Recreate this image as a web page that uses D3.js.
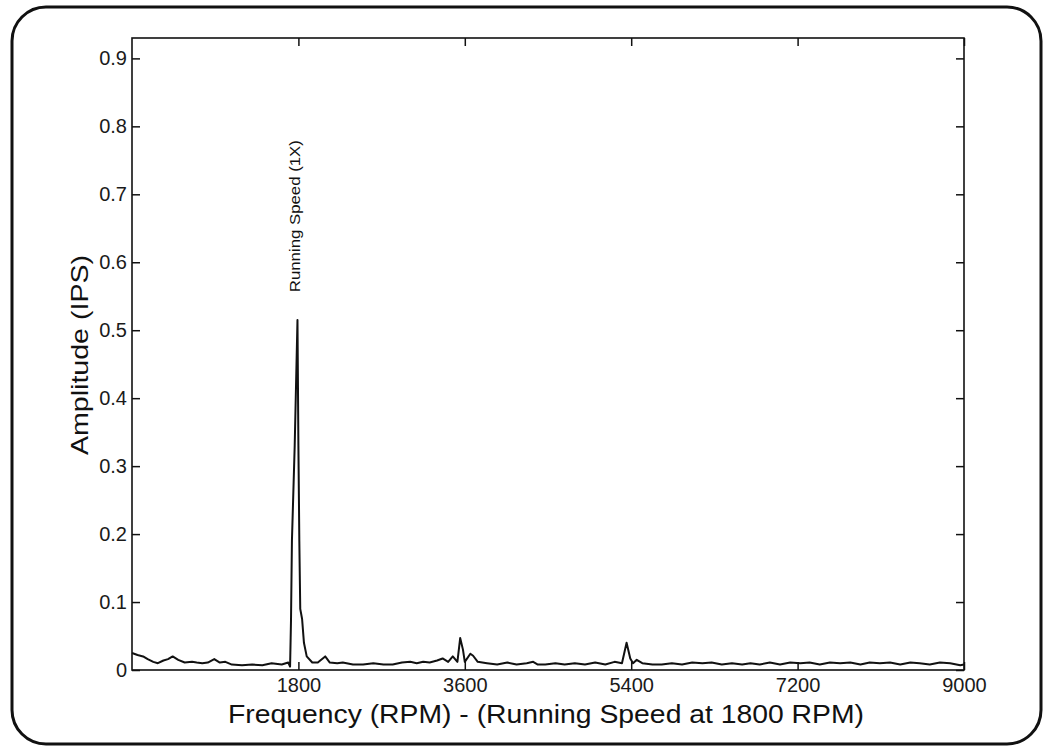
<!DOCTYPE html>
<html>
<head>
<meta charset="utf-8">
<script src="https://cdn.jsdelivr.net/npm/d3@7"></script>
<style>
  body { margin: 0; background: #fff; }
  svg { display: block; font-family: "Liberation Sans", Arial, sans-serif; }
</style>
</head>
<body>
<div id="vis"></div>
<script>
var width = 1046;
var height = 754;

// spectrum: frequency (RPM) and amplitude (IPS)
var rpm = [0, 60, 120, 170, 230, 280, 340, 390, 440, 500, 570, 650, 700, 760, 820, 890, 950, 1010, 1080, 1190, 1300, 1410, 1510, 1620, 1690,
  1710, 1720, 1730, 1760, 1790, 1800, 1810, 1820, 1840, 1860, 1890,
  1950, 2010, 2090, 2140, 2220, 2280, 2390, 2500, 2610, 2720, 2820, 2920, 3010, 3080, 3150, 3220, 3300, 3360, 3420, 3470, 3520,
  3550, 3580, 3600, 3660, 3690, 3740, 3840, 3950, 4060, 4160, 4270, 4340, 4390, 4470, 4580, 4680, 4790, 4900, 5010, 5120, 5220, 5300,
  5350, 5390, 5420, 5460, 5520, 5630, 5730, 5840, 5950, 6060, 6170, 6270, 6380, 6490, 6600, 6690, 6790, 6900, 7010, 7120, 7230,
  7330, 7440, 7550, 7660, 7770, 7880, 7980, 8090, 8200, 8310, 8420, 8520, 8630, 8740, 8850, 8960, 9000];
var amplitude = [0.025, 0.022, 0.020, 0.016, 0.012, 0.010, 0.014, 0.016, 0.020, 0.015, 0.011, 0.012, 0.011, 0.010, 0.011, 0.016, 0.011, 0.012, 0.008, 0.007, 0.008, 0.007, 0.010, 0.008, 0.011,
  0.005, 0.073, 0.19, 0.33, 0.515, 0.33, 0.19, 0.09, 0.075, 0.04, 0.020,
  0.011, 0.011, 0.020, 0.011, 0.010, 0.011, 0.008, 0.008, 0.010, 0.008, 0.008, 0.011, 0.012, 0.010, 0.012, 0.011, 0.014, 0.017, 0.012, 0.020, 0.012,
  0.047, 0.030, 0.012, 0.024, 0.021, 0.012, 0.010, 0.008, 0.011, 0.008, 0.010, 0.012, 0.008, 0.008, 0.010, 0.008, 0.010, 0.008, 0.011, 0.008, 0.012, 0.010,
  0.040, 0.017, 0.010, 0.015, 0.010, 0.008, 0.008, 0.010, 0.008, 0.011, 0.010, 0.011, 0.008, 0.010, 0.008, 0.010, 0.008, 0.011, 0.008, 0.011, 0.010,
  0.011, 0.008, 0.011, 0.010, 0.011, 0.008, 0.011, 0.010, 0.011, 0.008, 0.011, 0.010, 0.008, 0.011, 0.010, 0.007, 0.008];

var xTicks = [1800, 3600, 5400, 7200, 9000];
var yTicks = [0, 0.1, 0.2, 0.3, 0.4, 0.5, 0.6, 0.7, 0.8, 0.9];
var xTitle = "Frequency (RPM) - (Running Speed at 1800 RPM)";
var yTitle = "Amplitude (IPS)";
var note = "Running Speed (1X)";
var noteAt = [1790, 0.556];

var plotL = 132, plotR = 964, plotT = 38, plotB = 670;

var x = d3.scaleLinear().domain([0, 9000]).range([plotL, plotR]);
var y = d3.scaleLinear().domain([0, 0.93]).range([plotB, plotT]);

var svg = d3.select("#vis")
  .append("svg")
  .attr("width", width)
  .attr("height", height)
  .attr("viewBox", [0, 0, width, height]);

// rounded card border
svg.append("rect")
  .attr("x", 12)
  .attr("y", 7)
  .attr("width", 1029)
  .attr("height", 737)
  .attr("rx", 34)
  .attr("fill", "none")
  .attr("stroke", "#111")
  .attr("stroke-width", 3);

var fmtY = d => d === 0 ? "0" : d.toFixed(1);

svg.append("g")
  .attr("transform", `translate(${plotL},0)`)
  .call(d3.axisLeft(y).tickValues(yTicks).tickFormat(fmtY).tickSizeInner(-8).tickSizeOuter(0).tickPadding(5));

svg.append("g")
  .attr("transform", `translate(${plotR},0)`)
  .call(d3.axisRight(y).tickValues(yTicks).tickFormat("").tickSizeInner(-8).tickSizeOuter(0));

svg.append("g")
  .attr("transform", `translate(0,${plotB})`)
  .call(d3.axisBottom(x).tickValues(xTicks).tickFormat(d3.format("d")).tickSizeInner(-8).tickSizeOuter(0).tickPadding(8));

svg.append("g")
  .attr("transform", `translate(0,${plotT})`)
  .call(d3.axisTop(x).tickValues(xTicks).tickFormat("").tickSizeInner(-8).tickSizeOuter(0));

svg.selectAll(".domain").remove();
svg.selectAll(".tick line").attr("stroke", "#111").attr("stroke-width", 1.5);
svg.selectAll(".tick text")
  .attr("fill", "#1a1a1a")
  .style("font-size", "20px")
  .style("font-family", "'Liberation Sans', Arial, sans-serif");

// the spectrum trace
var pts = rpm.map((r, i) => [r, amplitude[i]]);
svg.append("path")
  .datum(pts)
  .attr("fill", "none")
  .attr("stroke", "#111")
  .attr("stroke-width", 2)
  .attr("stroke-linejoin", "round")
  .attr("d", d3.line().x(d => x(d[0])).y(d => y(d[1])));

// plot frame
svg.append("rect")
  .attr("x", plotL)
  .attr("y", plotT)
  .attr("width", plotR - plotL)
  .attr("height", plotB - plotT)
  .attr("fill", "none")
  .attr("stroke", "#111")
  .attr("stroke-width", 1.6);

svg.append("text")
  .attr("transform", `translate(${x(noteAt[0]) + 3},${y(noteAt[1])}) rotate(-90)`)
  .attr("text-anchor", "start")
  .attr("textLength", 152)
  .attr("lengthAdjust", "spacingAndGlyphs")
  .style("font-size", "14px")
  .attr("fill", "#111")
  .text(note);

svg.append("text")
  .attr("x", 546)
  .attr("y", 723)
  .attr("text-anchor", "middle")
  .attr("textLength", 636)
  .attr("lengthAdjust", "spacingAndGlyphs")
  .style("font-size", "25px")
  .attr("fill", "#111")
  .text(xTitle);

svg.append("text")
  .attr("transform", "translate(88,355) rotate(-90)")
  .attr("text-anchor", "middle")
  .attr("textLength", 200)
  .attr("lengthAdjust", "spacingAndGlyphs")
  .style("font-size", "24px")
  .attr("fill", "#111")
  .text(yTitle);
</script>
</body>
</html>
